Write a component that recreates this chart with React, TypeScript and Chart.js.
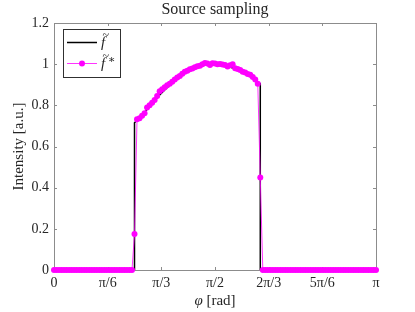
import React, { useEffect, useRef } from "react";
import { Chart, registerables } from "chart.js";

Chart.register(...registerables);

const PI = Math.PI;
const SAMPLES_PER_PI = 128;

// sampled signal f~* (index k -> phi = k*pi/128)
const sampledValues = [
  0, 0, 0, 0, 0, 0, 0, 0, 0, 0, 0, 0, 0, 0, 0, 0,
  0, 0, 0, 0, 0, 0, 0, 0, 0, 0, 0, 0, 0, 0, 0, 0,
  0.175,
  0.732, 0.737, 0.75, 0.761, 0.789, 0.8, 0.812, 0.826, 0.845, 0.868,
  0.878, 0.888, 0.897, 0.905, 0.915, 0.925, 0.935, 0.943, 0.953, 0.963,
  0.968, 0.975, 0.979, 0.985, 0.99, 0.992, 1.0, 1.006, 1.003, 0.996,
  1.005, 1.003, 1.0, 1.001, 0.998, 0.996, 0.989, 0.995, 1.0, 0.98,
  0.976, 0.972, 0.963, 0.959, 0.952, 0.948, 0.938, 0.925, 0.905,
  0.449,
  0, 0, 0, 0, 0, 0, 0, 0, 0, 0, 0, 0, 0, 0, 0, 0,
  0, 0, 0, 0, 0, 0, 0, 0, 0, 0, 0, 0, 0, 0, 0, 0,
  0, 0, 0, 0, 0, 0, 0, 0, 0, 0, 0, 0, 0, 0,
];

// true signal f~ (positions in units of pi/128)
const trueIdx = [0, 32, 32, 34, 36, 38, 40, 42, 44, 46, 48, 50, 52, 54, 56, 58, 60, 62, 64, 66, 68, 70, 72, 74, 76, 78, 80, 82, 82, 128];
const trueVal = [0, 0, 0.715, 0.74, 0.765, 0.795, 0.822, 0.85, 0.875, 0.898, 0.92, 0.94, 0.958, 0.972, 0.984, 0.993, 0.999, 1.002, 1.002, 0.999, 0.994, 0.986, 0.976, 0.965, 0.953, 0.94, 0.924, 0.905, 0, 0];

const xTickValues = [0, PI / 6, PI / 3, PI / 2, (2 * PI) / 3, (5 * PI) / 6, PI];
const xTickLabels = ["0", "π/6", "π/3", "π/2", "2π/3", "5π/6", "π"];
const yTickValues = [0, 0.2, 0.4, 0.6, 0.8, 1, 1.2];
const yTickLabels = ["0", "0.2", "0.4", "0.6", "0.8", "1", "1.2"];

const SERIF = "'Liberation Serif', 'DejaVu Serif', serif";
const TEXT = "#262626";
const AXIS = "#8c8c8c";
const MAGENTA = "#ff00ff";

export default function App() {
  const ref = useRef<HTMLCanvasElement | null>(null);

  useEffect(() => {
    if (!ref.current) return;
    const sampled = sampledValues.map((v, k) => ({ x: (k * PI) / SAMPLES_PER_PI, y: v }));
    const truth = trueIdx.map((k, i) => ({ x: (k * PI) / SAMPLES_PER_PI, y: trueVal[i] }));

    const drawFTilde = (ctx: any, x: number, y: number, star: boolean) => {
      ctx.textAlign = "left";
      ctx.textBaseline = "alphabetic";
      ctx.font = `italic 15px ${SERIF}`;
      ctx.fillText("f", x, y);
      ctx.font = `12px ${SERIF}`;
      ctx.fillText("~", x + 1.5, y - 8);
      if (star) {
        ctx.font = `11px ${SERIF}`;
        ctx.fillText("∗", x + 7, y - 5);
      }
    };

    const decor = {
      id: "decor",
      beforeDatasetsDraw(chart: any) {
        const { ctx, chartArea, scales } = chart;
        const { left, right, top, bottom } = chartArea;
        ctx.save();
        ctx.strokeStyle = AXIS;
        ctx.lineWidth = 1;
        ctx.strokeRect(Math.round(left) + 0.5, Math.round(top) + 0.5, Math.round(right - left), Math.round(bottom - top));
        ctx.beginPath();
        xTickValues.forEach((v) => {
          const px = Math.round(scales.x.getPixelForValue(v)) + 0.5;
          ctx.moveTo(px, bottom);
          ctx.lineTo(px, bottom - 3);
          ctx.moveTo(px, top);
          ctx.lineTo(px, top + 3);
        });
        yTickValues.forEach((v) => {
          const py = Math.round(scales.y.getPixelForValue(v)) + 0.5;
          ctx.moveTo(left, py);
          ctx.lineTo(left + 3, py);
          ctx.moveTo(right, py);
          ctx.lineTo(right - 3, py);
        });
        ctx.stroke();
        ctx.restore();
      },
      afterDraw(chart: any) {
        const { ctx, chartArea } = chart;
        const { left, right, top, bottom } = chartArea;
        const cx = (left + right) / 2;
        ctx.save();
        ctx.fillStyle = TEXT;
        ctx.textAlign = "center";
        ctx.textBaseline = "middle";
        ctx.font = `16px ${SERIF}`;
        ctx.fillText("Source sampling", cx, 10);
        ctx.restore();

        // y-axis title (rotated)
        ctx.save();
        ctx.fillStyle = TEXT;
        ctx.font = `15px ${SERIF}`;
        ctx.textAlign = "center";
        ctx.textBaseline = "middle";
        ctx.translate(19, (top + bottom) / 2);
        ctx.rotate(-Math.PI / 2);
        ctx.fillText("Intensity [a.u.]", 0, 0);
        ctx.restore();

        // x-axis title
        ctx.save();
        ctx.fillStyle = TEXT;
        ctx.textBaseline = "middle";
        ctx.font = `italic 15px ${SERIF}`;
        const phiW = ctx.measureText("φ").width;
        ctx.font = `15px ${SERIF}`;
        const restW = ctx.measureText(" [rad]").width;
        const startX = cx - (phiW + restW) / 2;
        ctx.font = `italic 15px ${SERIF}`;
        ctx.textAlign = "left";
        ctx.fillText("φ", startX, 301);
        ctx.font = `15px ${SERIF}`;
        ctx.fillText(" [rad]", startX + phiW, 301);
        ctx.restore();

        // legend
        ctx.save();
        const bx = 63.5, by = 29.5, bw = 57, bh = 48;
        ctx.fillStyle = "#ffffff";
        ctx.fillRect(bx, by, bw, bh);
        ctx.strokeStyle = "#303030";
        ctx.lineWidth = 1;
        ctx.strokeRect(bx, by, bw, bh);
        ctx.strokeStyle = "#000000";
        ctx.lineWidth = 1.5;
        ctx.beginPath();
        ctx.moveTo(67, 42.5);
        ctx.lineTo(97, 42.5);
        ctx.stroke();
        ctx.strokeStyle = MAGENTA;
        ctx.lineWidth = 0.8;
        ctx.beginPath();
        ctx.moveTo(67, 63.5);
        ctx.lineTo(97, 63.5);
        ctx.stroke();
        ctx.fillStyle = MAGENTA;
        ctx.beginPath();
        ctx.arc(82, 63.5, 3, 0, Math.PI * 2);
        ctx.fill();
        ctx.fillStyle = TEXT;
        drawFTilde(ctx, 101, 47, false);
        drawFTilde(ctx, 101, 68, true);
        ctx.restore();
      },
    };

    const chart = new Chart(ref.current, {
      type: "line",
      data: {
        datasets: [
          {
            label: "f~*",
            data: sampled,
            borderColor: MAGENTA,
            borderWidth: 0.8,
            backgroundColor: MAGENTA,
            pointRadius: 3,
            pointBorderWidth: 0,
            pointBackgroundColor: MAGENTA,
            tension: 0,
            order: 0,
            clip: false,
          },
          {
            label: "f~",
            data: truth,
            borderColor: "#000000",
            borderWidth: 1.5,
            pointRadius: 0,
            tension: 0,
            order: 1,
          },
        ],
      },
      options: {
        animation: false,
        responsive: false,
        maintainAspectRatio: false,
        layout: { padding: { top: 23, right: 39, left: 0, bottom: 0 } },
        plugins: { legend: { display: false }, tooltip: { enabled: false }, title: { display: false } },
        elements: { line: { borderCapStyle: "butt" } },
        scales: {
          x: {
            type: "linear",
            min: 0,
            max: PI,
            grid: { display: false, drawTicks: false },
            border: { display: false },
            afterBuildTicks: (s: any) => {
              s.ticks = xTickValues.map((v) => ({ value: v }));
            },
            afterFit: (s: any) => {
              s.height = 42;
            },
            ticks: {
              autoSkip: false,
              maxRotation: 0,
              padding: 5,
              color: TEXT,
              font: { family: SERIF, size: 14 },
              callback: (_v: any, i: number) => xTickLabels[i],
            },
          },
          y: {
            min: 0,
            max: 1.2,
            grid: { display: false, drawTicks: false },
            border: { display: false },
            afterBuildTicks: (s: any) => {
              s.ticks = yTickValues.map((v) => ({ value: v }));
            },
            afterFit: (s: any) => {
              s.width = 54;
            },
            ticks: {
              padding: 5,
              color: TEXT,
              font: { family: SERIF, size: 14 },
              callback: (_v: any, i: number) => yTickLabels[i],
            },
          },
        },
      },
      plugins: [decor],
    });
    return () => chart.destroy();
  }, []);

  return (
    <div style={{ position: "fixed", left: 0, top: 0, width: 415, height: 312, background: "#fff" }}>
      <canvas ref={ref} width={415} height={312} style={{ width: 415, height: 312, display: "block" }} />
    </div>
  );
}
